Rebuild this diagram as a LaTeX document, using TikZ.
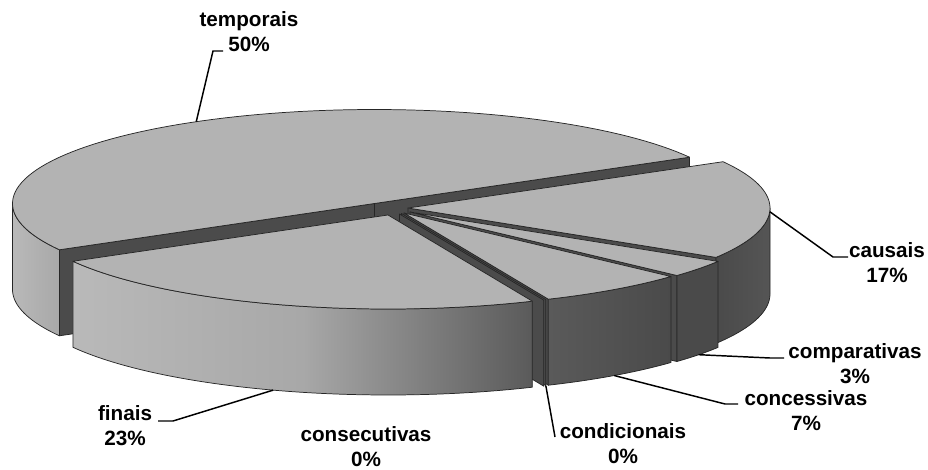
\documentclass[tikz,border=0pt]{standalone}
\usepackage{fontspec}
\setmainfont{Liberation Sans}
\definecolor{topgray}{HTML}{B3B3B3}
\definecolor{cutgray}{HTML}{4B4B4B}
\definecolor{wallA}{HTML}{B9B9B9}
\definecolor{wallB}{HTML}{A8A8A8}
\definecolor{wallC}{HTML}{5A5A5A}
\definecolor{wallD}{HTML}{4A4A4A}
\definecolor{wallE}{HTML}{555555}
\newcommand\lblfont{\fontsize{15.5}{18.75}\selectfont\bfseries}
\newcommand\twoline[2]{\begin{tabular}[t]{@{}c@{}}#1\\#2\end{tabular}}
\def\Rx{362}\def\Ry{94}\def\Hh{86}
\newcommand\topface[4]{\filldraw[topf] (#1,#2) -- plot[domain=#3:#4,samples=90,variable=\t] ({#1+\Rx*cos(\t)},{#2-\Ry*sin(\t)}) -- cycle;}
\newcommand\cutface[3]{\filldraw[cutf] (#1,#2) -- ({#1+\Rx*cos(#3)},{#2-\Ry*sin(#3)}) -- ({#1+\Rx*cos(#3)},{#2+\Hh-\Ry*sin(#3)}) -- (#1,{#2+\Hh}) -- cycle;}
\newcommand\sidewall[5]{\draw[edge,#5] plot[domain=#3:#4,samples=70,variable=\t] ({#1+\Rx*cos(\t)},{#2-\Ry*sin(\t)}) -- plot[domain=#4:#3,samples=70,variable=\t] ({#1+\Rx*cos(\t)},{#2+\Hh-\Ry*sin(\t)}) -- cycle;}
\begin{document}
\begin{tikzpicture}[x=0.75pt,y=-0.75pt,
  edge/.style={draw=black!85,line width=0.55pt,line join=round},
  topf/.style={edge,fill=topgray},
  cutf/.style={edge,fill=cutgray},
  leader/.style={draw=black,line width=1.1pt,line join=miter},
  lab/.style={anchor=base,inner sep=0pt,font=\lblfont}]
\useasboundingbox (0,0) rectangle (928,470);
\fill[white] (0,0) rectangle (928,470);
% temporais 50%
\cutface{374.5}{203.5}{209.5}
\cutface{374.5}{203.5}{29.5}
\sidewall{374.5}{203.5}{180}{209.5}{left color=wallA,right color=wallB}
\topface{374.5}{203.5}{29.5}{209.5}
% causais 17%
\cutface{408}{208}{-31.7}
\sidewall{408}{208}{-31.7}{0}{left color=wallD,right color=wallE}
\topface{408}{208}{-31.7}{29.5}
% comparativas 3%
\cutface{410}{212}{-42.5}
\sidewall{410}{212}{-42.5}{-31.7}{left color=wallD,right color=wallD}
\topface{410}{212}{-42.5}{-31.7}
% concessivas 7%
\cutface{404}{213}{-66.5}
\sidewall{404}{213}{-66.5}{-42.5}{left color=wallC,right color=wallD}
\topface{404}{213}{-66.5}{-42.5}
% condicionais 0%, consecutivas 0%
\cutface{401.5}{213.5}{-66.5}
\cutface{399.5}{214}{-66.5}
% finais 23%
\sidewall{388}{215}{-150.5}{-66.5}{left color=wallA,right color=wallC,middle color=wallB}
\topface{388}{215}{-150.5}{-66.5}

% leader anchor points on the slices
\coordinate (rT) at ({374.5+\Rx*cos(119.5)},{203.5-\Ry*sin(119.5)});
\coordinate (rCa) at ({408+\Rx*cos(-1.1)},{208+2-\Ry*sin(-1.1)});
\coordinate (rCo) at ({410+\Rx*cos(-37.1)},{212+\Hh-\Ry*sin(-37.1)});
\coordinate (rCe) at ({404+\Rx*cos(-54.5)},{213+\Hh-\Ry*sin(-54.5)});
\coordinate (rCd) at ({401.5+\Rx*cos(-66.5)},{213.5+\Hh-\Ry*sin(-66.5)});
\coordinate (rF) at ({388+\Rx*cos(-108.5)},{215+\Hh-\Ry*sin(-108.5)});

% labels
\node[lab] (lT) at (249,27) {\twoline{temporais}{50\%}};
\node[lab] (lCa) at (887,258) {\twoline{causais}{17\%}};
\node[lab] (lCo) at (855,358) {\twoline{comparativas}{3\%}};
\node[lab] (lCe) at (806,405) {\twoline{concessivas}{7\%}};
\node[lab] (lCd) at (623,438) {\twoline{condicionais}{0\%}};
\node[lab] (lCs) at (366,441) {\twoline{consecutivas}{0\%}};
\node[lab] (lF) at (125,420) {\twoline{finais}{23\%}};

% leader ends
\coordinate (eT1) at (213,51);  \coordinate (eT2) at (223,51);
\coordinate (eCa1) at (833,257); \coordinate (eCa2) at (848,257);
\coordinate (eCo1) at (770,358); \coordinate (eCo2) at (784,358);
\coordinate (eCe1) at (725,404); \coordinate (eCe2) at (738,404);
\coordinate (eCd) at (555,437);
\coordinate (eF1) at (173,421); \coordinate (eF2) at (158,421);

\draw[leader] (rT) -- (eT1) -- (eT2);
\draw[leader] (rCa) -- (eCa1) -- (eCa2);
\draw[leader] (rCo) -- (eCo1) -- (eCo2);
\draw[leader] (rCe) -- (eCe1) -- (eCe2);
\draw[leader] (rCd) -- (eCd);
\draw[leader] (rF) -- (eF1) -- (eF2);
\end{tikzpicture}
\end{document}
